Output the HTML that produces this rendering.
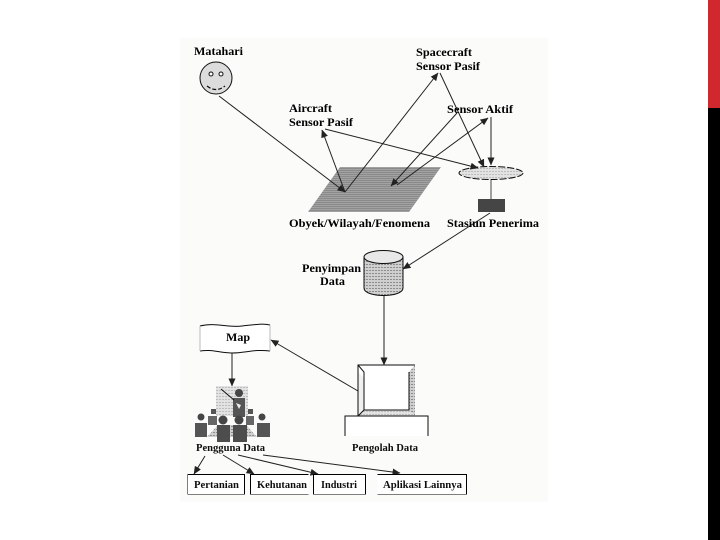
<!DOCTYPE html>
<html><head><meta charset="utf-8"><style>
html,body{margin:0;padding:0;width:720px;height:540px;background:#fff;overflow:hidden}
svg{position:absolute;left:0;top:0}
text{font-family:"Liberation Serif",serif;fill:#000}
.b{font-weight:bold;font-size:11.5px}
.n{font-size:11px;font-weight:bold;fill:#111}
</style></head><body>
<svg width="720" height="540" viewBox="0 0 720 540">
<defs>
<pattern id="g" width="2" height="2" patternUnits="userSpaceOnUse"><rect width="2" height="2" fill="#a2a2a2"/><rect width="2" height="1" fill="#8a8a8a"/></pattern>
<pattern id="c" width="3" height="3" patternUnits="userSpaceOnUse"><rect width="3" height="3" fill="#cfcfcf"/><rect width="2" height="1" fill="#8c8c8c"/></pattern>
<pattern id="l" width="3" height="3" patternUnits="userSpaceOnUse"><rect width="3" height="3" fill="#e2e2e2"/><rect width="2" height="1" fill="#bdbdbd"/></pattern>
<marker id="a" markerWidth="9" markerHeight="9" refX="7.5" refY="3.500" orient="auto" markerUnits="userSpaceOnUse"><path d="M0,0L8,3.500L0,7z" fill="#222"/></marker>
<filter id="s" x="0" y="0" width="100%" height="100%"><feGaussianBlur stdDeviation="0.25"/></filter>
</defs>
<rect x="708" y="0" width="12" height="108" fill="#d0282f"/>
<rect x="708" y="108" width="12" height="432" fill="#000"/>
<rect x="180" y="38" width="368" height="464" fill="#fbfbf9"/>
<g filter="url(#s)">
<!-- sun -->
<circle cx="216" cy="78" r="16" fill="#dcdcdc" stroke="#111"/>
<circle cx="211" cy="74" r="2" fill="#fff" stroke="#111"/><circle cx="221" cy="74" r="2" fill="#fff" stroke="#111"/>
<path d="M207,86Q216,93 225,86" fill="none" stroke="#111" stroke-width="1.2" stroke-dasharray="4 2"/>
<!-- field -->
<path d="M340,167H441L409,212H308z" fill="url(#g)"/>
<!-- dish / receiver -->
<ellipse cx="491" cy="173" rx="32" ry="6.500" fill="url(#l)" stroke="#111" stroke-dasharray="7 2"/>
<line x1="491" y1="180" x2="491" y2="199" stroke="#444"/>
<rect x="478" y="199" width="27" height="13" fill="#444"/>
<!-- connectors -->
<g fill="none" stroke="#222" stroke-width="1" marker-end="url(#a)">
<line x1="219" y1="96" x2="345" y2="192"/>
<line x1="345" y1="192" x2="322" y2="130"/>
<line x1="345" y1="192" x2="438" y2="73"/>
<line x1="325" y1="129" x2="478" y2="168"/>
<line x1="440" y1="73" x2="484" y2="167"/>
<line x1="491" y1="117" x2="491" y2="165"/>
<line x1="397" y1="185" x2="488" y2="118"/>
<line x1="457" y1="113" x2="391" y2="186"/>
<line x1="490" y1="213" x2="403" y2="269"/>
<line x1="384" y1="295" x2="384" y2="365"/>
<line x1="358" y1="391" x2="271" y2="340"/>
<line x1="232" y1="352" x2="232" y2="386"/>
<line x1="205" y1="456" x2="194" y2="474"/>
<line x1="223" y1="455" x2="254" y2="474"/>
<line x1="238" y1="455" x2="318" y2="474"/>
<line x1="263" y1="455" x2="400" y2="473"/>
</g>
<!-- cylinder -->
<path d="M364,257V288C364,298 403,298 403,288V257z" fill="url(#c)" stroke="#111"/>
<ellipse cx="383.500" cy="257" rx="19.500" ry="6.500" fill="#e8e8e8" stroke="#111"/>
<!-- monitor -->
<rect x="358" y="365" width="57" height="51" fill="#fff"/>
<path d="M409,372L415,365V416L409,410z" fill="url(#c)"/>
<path d="M364,410H409L415,416H358z" fill="url(#l)"/>
<path d="M358,372L364,378V410L358,416z" fill="#f0f0f0"/>
<path d="M415,365H358V416H415M358,365L364,372V410H409V372M364,410L358,416" fill="none" stroke="#111"/>
<path d="M345,436V416H428V436" fill="#fff" stroke="#111"/>
<!-- map -->
<path d="M200,326C215,322 228,328 242,326C252,325 262,323 270,325V351C255,349 245,353 232,353C220,353 212,349 200,351z" fill="#fff" stroke="none"/>
<path d="M200,326C215,322 228,328 242,326C252,325 262,323 270,325M270,351C255,349 245,353 232,353C220,353 212,349 200,351" fill="none" stroke="#111"/>
<path d="M200,326V351M270,325V351" fill="none" stroke="#bbb"/>
<!-- audience -->
<rect x="216" y="386" width="32" height="30" fill="url(#l)"/>
<circle cx="239" cy="393" r="4" fill="#444"/>
<path d="M233,398H245V417H233z" fill="#555"/>
<line x1="221" y1="389" x2="234" y2="400" stroke="#111"/>
<path d="M236,403l5,2l-2,4z" fill="#eee"/>
<path d="M195,423H207V437H195zM257,423H270V437H257z" fill="#555"/>
<circle cx="201" cy="417" r="3.500" fill="#444"/><circle cx="262" cy="417" r="3.500" fill="#444"/>
<path d="M208,416H217V425H208zM246,416H254V425H246z" fill="#666"/>
<path d="M207,437L218,425H246L257,437z" fill="url(#c)"/>
<rect x="217" y="425" width="13" height="17" fill="#4d4d4d"/><rect x="233" y="425" width="14" height="17" fill="#4d4d4d"/>
<circle cx="223" cy="420" r="4.500" fill="#444"/><circle cx="239" cy="420" r="4.500" fill="#444"/>
<rect x="211" y="409" width="5" height="5" fill="#555"/><rect x="248" y="409" width="5" height="5" fill="#555"/>
<!-- boxes -->
<g fill="#fff" stroke="#000">
<rect x="187.500" y="474.500" width="57" height="20"/>
<path d="M308.500,474.500H250.500V494.500H308.500" fill="#fff"/>
<rect x="313.500" y="474.500" width="52" height="20"/>
<path d="M377.500,474.500H466.500V494.500H377.500" fill="#fff"/>
</g>
<!-- labels -->
<text class="b" x="194" y="55" textLength="49" lengthAdjust="spacingAndGlyphs">Matahari</text>
<text class="b" x="416" y="56" textLength="56" lengthAdjust="spacingAndGlyphs">Spacecraft</text>
<text class="b" x="416" y="70" textLength="64" lengthAdjust="spacingAndGlyphs">Sensor Pasif</text>
<text class="b" x="289" y="112" textLength="43" lengthAdjust="spacingAndGlyphs">Aircraft</text>
<text class="b" x="289" y="126" textLength="64" lengthAdjust="spacingAndGlyphs">Sensor Pasif</text>
<text class="b" x="447" y="113" textLength="66" lengthAdjust="spacingAndGlyphs">Sensor Aktif</text>
<text class="b" x="289" y="227" textLength="141" lengthAdjust="spacingAndGlyphs">Obyek/Wilayah/Fenomena</text>
<text class="b" x="447" y="227" textLength="92" lengthAdjust="spacingAndGlyphs">Stasiun Penerima</text>
<text class="b" x="302" y="272" textLength="59" lengthAdjust="spacingAndGlyphs">Penyimpan</text>
<text class="b" x="320" y="285" textLength="25" lengthAdjust="spacingAndGlyphs">Data</text>
<text class="b" x="226" y="341" textLength="24" lengthAdjust="spacingAndGlyphs">Map</text>
<text class="n" x="196" y="451" textLength="69" lengthAdjust="spacingAndGlyphs">Pengguna Data</text>
<text class="n" x="352" y="451" textLength="66" lengthAdjust="spacingAndGlyphs" style="font-size:10px">Pengolah Data</text>
<text class="n" x="194" y="488" textLength="45" lengthAdjust="spacingAndGlyphs">Pertanian</text>
<text class="n" x="257" y="488" textLength="50" lengthAdjust="spacingAndGlyphs">Kehutanan</text>
<text class="n" x="321" y="488" textLength="36" lengthAdjust="spacingAndGlyphs">Industri</text>
<text class="n" x="383" y="488" textLength="79" lengthAdjust="spacingAndGlyphs">Aplikasi Lainnya</text>
</g>
</svg>
</body></html>
